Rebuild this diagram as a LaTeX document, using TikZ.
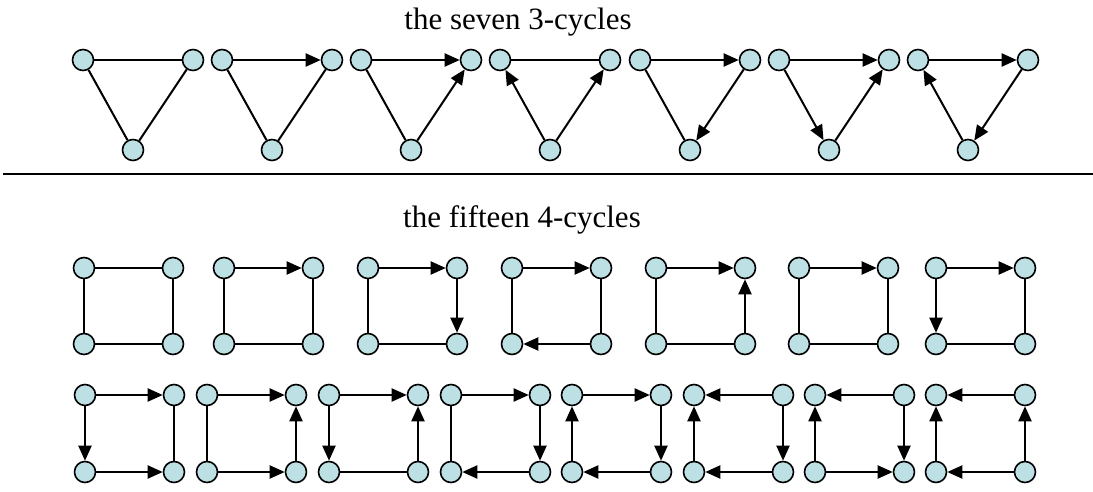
\documentclass[tikz,border=0pt]{standalone}
\usepackage{fontspec}
\setmainfont{Liberation Serif}
\usetikzlibrary{arrows.meta}
\definecolor{nodefill}{RGB}{188,224,227}
\newcommand\tri[2]{%
  \node[vtx] (#1a) at (#2,60) {};
  \node[vtx] (#1b) at ({#2+110},60) {};
  \node[vtx] (#1c) at ({#2+50},150) {};}
\newcommand\sqr[4]{%
  \node[vtx] (#1a) at (#2,#3) {};
  \node[vtx] (#1b) at ({#2+89},#3) {};
  \node[vtx] (#1c) at (#2,#4) {};
  \node[vtx] (#1d) at ({#2+89},#4) {};}
\newcommand\darc[2]{\draw[arc] (#1) -- (#2);}
\newcommand\dedge[2]{\draw[edge] (#1) -- (#2);}
\begin{document}
\begin{tikzpicture}[x=1pt,y=-1pt,
  vtx/.style={circle,draw=black,fill=nodefill,line width=1.6pt,minimum size=21pt,inner sep=0pt},
  edge/.style={line width=2pt},
  arc/.style={line width=2pt,-{Triangle[length=15pt,width=13pt]}},
  title/.style={font=\fontsize{31}{37}\selectfont,anchor=base}]
\path[use as bounding box] (0,0) rectangle (1093,492);

\node[title] (h3) at (518,30) {the seven 3-cycles};
\node[title] (h4) at (522,227) {the fifteen 4-cycles};
\coordinate (l0) at (3,174);
\coordinate (l1) at (1093,174);
\draw[line width=2pt] (l0) -- (l1);

% triangles
\tri{t1}{83}
\tri{t2}{222}
\tri{t3}{361}
\tri{t4}{500}
\tri{t5}{640}
\tri{t6}{779}
\tri{t7}{918}
\dedge{t1a}{t1b}\dedge{t1a}{t1c}\dedge{t1c}{t1b}
\darc{t2a}{t2b}\dedge{t2a}{t2c}\dedge{t2c}{t2b}
\darc{t3a}{t3b}\darc{t3c}{t3b}\dedge{t3a}{t3c}
\darc{t4c}{t4a}\darc{t4c}{t4b}\dedge{t4a}{t4b}
\darc{t5a}{t5b}\darc{t5b}{t5c}\dedge{t5a}{t5c}
\darc{t6a}{t6b}\darc{t6a}{t6c}\darc{t6c}{t6b}
\darc{t7a}{t7b}\darc{t7b}{t7c}\darc{t7c}{t7a}

% squares row 1
\sqr{p1}{84}{268}{344}
\sqr{p2}{224}{268}{344}
\sqr{p3}{368}{268}{344}
\sqr{p4}{512}{268}{344}
\sqr{p5}{656}{268}{344}
\sqr{p6}{799}{268}{344}
\sqr{p7}{936}{268}{344}
\dedge{p1a}{p1b}\dedge{p1a}{p1c}\dedge{p1b}{p1d}\dedge{p1c}{p1d}
\darc{p2a}{p2b}\dedge{p2a}{p2c}\dedge{p2b}{p2d}\dedge{p2c}{p2d}
\darc{p3a}{p3b}\darc{p3b}{p3d}\dedge{p3a}{p3c}\dedge{p3c}{p3d}
\darc{p4a}{p4b}\darc{p4d}{p4c}\dedge{p4a}{p4c}\dedge{p4b}{p4d}
\darc{p5a}{p5b}\darc{p5d}{p5b}\dedge{p5a}{p5c}\dedge{p5c}{p5d}
\darc{p6a}{p6b}\dedge{p6a}{p6c}\dedge{p6b}{p6d}\dedge{p6c}{p6d}
\darc{p7a}{p7b}\darc{p7a}{p7c}\dedge{p7b}{p7d}\dedge{p7c}{p7d}

% squares row 2
\sqr{q1}{85}{395}{472}
\sqr{q2}{207}{395}{472}
\sqr{q3}{329}{395}{472}
\sqr{q4}{451}{395}{472}
\sqr{q5}{572}{395}{472}
\sqr{q6}{694}{395}{472}
\sqr{q7}{815}{395}{472}
\sqr{q8}{936}{395}{472}
\darc{q1a}{q1b}\darc{q1a}{q1c}\darc{q1c}{q1d}\dedge{q1b}{q1d}
\darc{q2a}{q2b}\darc{q2d}{q2b}\darc{q2c}{q2d}\dedge{q2a}{q2c}
\darc{q3a}{q3b}\darc{q3a}{q3c}\darc{q3d}{q3b}\dedge{q3c}{q3d}
\darc{q4a}{q4b}\darc{q4b}{q4d}\darc{q4d}{q4c}\dedge{q4a}{q4c}
\darc{q5a}{q5b}\darc{q5c}{q5a}\darc{q5b}{q5d}\darc{q5d}{q5c}
\darc{q6b}{q6a}\darc{q6c}{q6a}\darc{q6b}{q6d}\darc{q6d}{q6c}
\darc{q7b}{q7a}\darc{q7c}{q7a}\darc{q7b}{q7d}\darc{q7c}{q7d}
\darc{q8b}{q8a}\darc{q8c}{q8a}\darc{q8d}{q8b}\darc{q8d}{q8c}
\end{tikzpicture}
\end{document}
